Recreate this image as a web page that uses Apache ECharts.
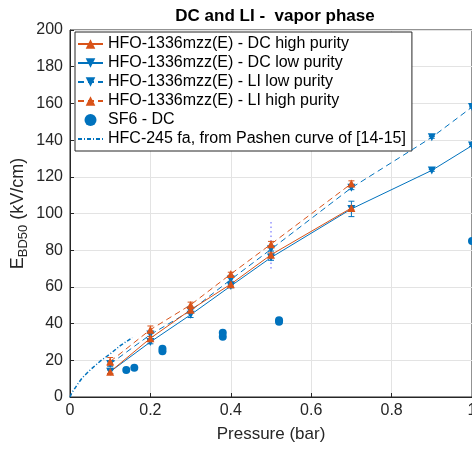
<!DOCTYPE html>
<html>
<head>
<meta charset="utf-8">
<script src="https://cdn.jsdelivr.net/npm/echarts@6/dist/echarts.min.js"></script>
<style>html,body{margin:0;padding:0;background:#fff}#c{width:472px;height:449px}</style>
</head>
<body>
<div id="c"></div>
<script>
// ---- data ----
const titleText = 'DC and LI -  vapor phase';
const xTicks = [0, 0.2, 0.4, 0.6, 0.8, 1];
const yTicks = [0, 20, 40, 60, 80, 100, 120, 140, 160, 180, 200];

const dcHighX = [0.1, 0.2, 0.3, 0.4, 0.5, 0.7];
const dcHighY = [13.8, 32, 47.5, 61.5, 77.5, 103];
const dcHighErr = [1, 1, 1, 1, 1, 1];

const dcLowX = [0.1, 0.2, 0.3, 0.4, 0.5, 0.7, 0.9, 1.0];
const dcLowY = [13.8, 30, 44.8, 60.5, 76, 102.5, 123.5, 137];
const dcLowErr = [1, 1, 1.5, 1, 1.5, 4.2, 0.5, 0.5];

const liLowX = [0.1, 0.2, 0.3, 0.4, 0.5, 0.7, 0.9, 1.0];
const liLowY = [18, 34, 47, 64, 80.5, 114, 141.5, 158];
const liLowErr = [1.5, 1, 1, 1, 1, 1, 0.5, 0.5];
const liLowWideX = [0.5];
const liLowWideLo = [70];
const liLowWideHi = [96.5];

const liHighX = [0.1, 0.2, 0.3, 0.4, 0.5, 0.7];
const liHighY = [19.3, 36.7, 50.2, 67, 83.3, 116.3];
const liHighErr = [2.2, 2, 1.5, 1, 1.5, 1.5];

const sf6X = [0.14, 0.16, 0.23, 0.23, 0.38, 0.38, 0.52, 0.52, 1.0];
const sf6Y = [14.7, 16, 25, 26.3, 32.8, 35, 41, 41.8, 85];

const hfcX = [0, 0.005, 0.01, 0.02, 0.03, 0.04, 0.05, 0.075, 0.1, 0.125, 0.155];
const hfcY = [0, 2.5, 4, 7.3, 10.3, 12.5, 14.7, 19.5, 23.5, 28, 32.4];

const names = [
  'HFO-1336mzz(E) - DC high purity',
  'HFO-1336mzz(E) - DC low purity',
  'HFO-1336mzz(E) - LI low purity',
  'HFO-1336mzz(E) - LI high purity',
  'SF6 - DC',
  'HFC-245 fa, from Pashen curve of [14-15]'
];

// ---- build ----
const ORANGE = '#D95319', BLUE = '#0072BD', DARK = '#262626';
const FONT = "'Liberation Sans', Arial, Helvetica, sans-serif";
const HFC_DASH = [4, 2, 1, 2];
const BLANK_SYMBOL = 'path://M0,0h0.01v0.01h-0.01z M9.99,9.99h0.01v0.01h-0.01z';
const zip = (xs, ys) => xs.map((x, i) => [x, ys[i]]);
const errData = (xs, ys, es) => xs.map((x, i) => [x, ys[i] - es[i], ys[i] + es[i]]);

function errSeries(data, color, dotted, capW) {
  return {
    type: 'custom', silent: true, z: 3,
    data: data,
    encode: { x: 0, y: [1, 2] },
    renderItem: function (params, api) {
      const x = api.value(0), lo = api.value(1), hi = api.value(2);
      const p1 = api.coord([x, lo]), p2 = api.coord([x, hi]);
      const st = { stroke: color, lineWidth: 1, lineDash: dotted ? [1.5, 3] : null };
      const children = [{ type: 'line', shape: { x1: p1[0], y1: p1[1], x2: p2[0], y2: p2[1] }, style: st }];
      if (capW > 0) {
        children.push({ type: 'line', shape: { x1: p1[0] - capW, y1: p1[1], x2: p1[0] + capW, y2: p1[1] }, style: st });
        children.push({ type: 'line', shape: { x1: p2[0] - capW, y1: p2[1], x2: p2[0] + capW, y2: p2[1] }, style: st });
      }
      return { type: 'group', children: children };
    }
  };
}

function lineSeries(name, xs, ys, color, dashed, rot) {
  return {
    name: name, type: 'line', data: zip(xs, ys), z: 4,
    symbol: 'triangle', symbolSize: 8, symbolRotate: rot,
    showSymbol: true,
    lineStyle: { color: color, width: 1, type: dashed ? [6, 4] : 'solid' },
    itemStyle: { color: color, borderWidth: 0 },
    emphasis: { disabled: true }, animation: false
  };
}

const legendData = names.map((n, i) => {
  if (i === 4) return { name: n, icon: 'circle' };
  return { name: n };
});

const option = {
  animation: false,
  backgroundColor: '#fff',
  title: {
    text: titleText, left: 270, top: 3, textAlign: 'center',
    textStyle: { fontFamily: FONT, fontSize: 17, fontWeight: 'bold', color: '#000' }
  },
  grid: { left: 70, top: 30, right: 0, bottom: 52, show: true, borderColor: DARK, borderWidth: 1,
          containLabel: false, outerBoundsMode: 'none' },
  legend: {
    data: legendData,
    orient: 'vertical', left: 75, top: 32,
    padding: [4, 6, 4, 2], itemGap: 3, itemWidth: 25, itemHeight: 12,
    backgroundColor: '#fff', borderColor: DARK, borderWidth: 1,
    textStyle: { fontFamily: FONT, fontSize: 16, color: '#000', lineHeight: 16 },
    selectedMode: false
  },
  xAxis: {
    type: 'value', min: 0, max: 1, interval: 0.2,
    name: 'Pressure (bar)', nameLocation: 'middle', nameGap: 29, nameMoveOverlap: false,
    nameTextStyle: { fontFamily: FONT, fontSize: 17, color: DARK },
    axisLine: { lineStyle: { color: DARK } },
    axisTick: { inside: true, length: 4, lineStyle: { color: DARK } },
    axisLabel: { fontFamily: FONT, fontSize: 16, color: DARK, margin: 6, formatter: v => String(+v.toFixed(1)) },
    splitLine: { lineStyle: { color: '#e3e3e3' } }
  },
  yAxis: {
    type: 'value', min: 0, max: 200, interval: 20,
    name: '{e|E}{s|BD50}{e| (kV/cm)}', nameLocation: 'middle', nameGap: 40, nameMoveOverlap: false,
    nameTextStyle: {
      fontFamily: FONT, color: DARK,
      rich: {
        e: { fontFamily: FONT, fontSize: 18, color: DARK, verticalAlign: 'middle' },
        s: { fontFamily: FONT, fontSize: 13, color: DARK, verticalAlign: 'top', padding: [10, 0, 0, 0] }
      }
    },
    axisLine: { show: true, lineStyle: { color: DARK } },
    axisTick: { show: true, inside: true, length: 4, lineStyle: { color: DARK } },
    axisLabel: { fontFamily: FONT, fontSize: 16, color: DARK, margin: 7 },
    splitLine: { lineStyle: { color: '#e3e3e3' } }
  },
  series: [
    errSeries(errData(dcLowX, dcLowY, dcLowErr), BLUE, false, 3),
    errSeries(errData(liLowX, liLowY, liLowErr), BLUE, false, 3),
    errSeries(liLowWideX.map((x, i) => [x, liLowWideLo[i], liLowWideHi[i]]), '#5b5bff', true, 0),
    errSeries(errData(dcHighX, dcHighY, dcHighErr), ORANGE, false, 3),
    errSeries(errData(liHighX, liHighY, liHighErr), ORANGE, false, 3),
    lineSeries(names[2], liLowX, liLowY, BLUE, true, 180),
    lineSeries(names[3], liHighX, liHighY, ORANGE, true, 0),
    lineSeries(names[1], dcLowX, dcLowY, BLUE, false, 180),
    lineSeries(names[0], dcHighX, dcHighY, ORANGE, false, 0),
    {
      name: names[4], type: 'scatter', data: zip(sf6X, sf6Y), symbol: 'circle', symbolSize: 8,
      itemStyle: { color: BLUE, opacity: 1 }, z: 2
    },
    {
      name: names[5], type: 'line', data: zip(hfcX, hfcY), symbol: BLANK_SYMBOL, showSymbol: false,
      lineStyle: { color: BLUE, width: 1.5, type: HFC_DASH }, itemStyle: { color: BLUE }, z: 2
    }
  ]
};
const chart = echarts.init(document.getElementById('c'), null, { renderer: 'canvas' });
chart.setOption(option);
</script>
</body>
</html>
